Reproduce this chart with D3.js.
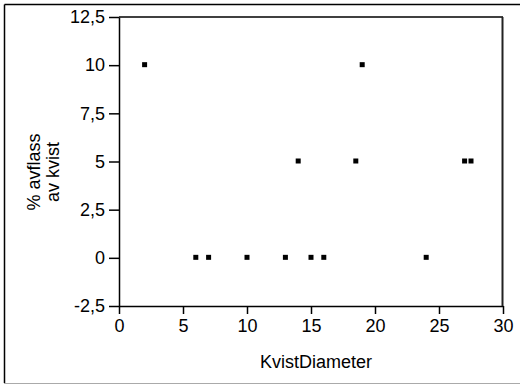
<!DOCTYPE html>
<html><head><meta charset="utf-8">
<script src="https://cdn.jsdelivr.net/npm/d3@7"></script>
<style>body{margin:0;background:#fff}svg{display:block}text{font-family:"Liberation Sans",Arial,sans-serif}</style>
</head><body>
<svg id="c" width="520" height="385"></svg>
<script>
const xValues = [2, 6, 7, 10, 13, 14, 15, 16, 18.5, 19, 24, 27, 27.5];
const yValues = [10, 0, 0, 0, 0, 5, 0, 0, 5, 10, 0, 5, 5];
const xTicks = [0, 5, 10, 15, 20, 25, 30];
const yTicks = [-2.5, 0, 2.5, 5, 7.5, 10, 12.5];
const xTitle = "KvistDiameter";
const yTitle = ["% avflass", "av kvist"];

const svg = d3.select("#c");
// outer frame
svg.append("line").attr("x1",4.5).attr("x2",520).attr("y1",4.5).attr("y2",4.5).attr("stroke","#000").attr("stroke-width",1.5);
svg.append("line").attr("x1",4.5).attr("x2",4.5).attr("y1",4.5).attr("y2",383).attr("stroke","#000").attr("stroke-width",1.5);
svg.append("line").attr("x1",4).attr("x2",520).attr("y1",383.5).attr("y2",383.5).attr("stroke","#aaa").attr("stroke-width",1);

const x = d3.scaleLinear().domain([0,30]).range([119,503]);
const y = d3.scaleLinear().domain([-2.5,12.5]).range([306,17]);
const fmt = d => String(d).replace(".", ",");

const gx = svg.append("g").attr("transform","translate(0,306)")
  .call(d3.axisBottom(x).tickValues(xTicks).tickFormat(fmt).tickSize(8).tickPadding(5).tickSizeOuter(0));
const gy = svg.append("g").attr("transform","translate(119,0)")
  .call(d3.axisLeft(y).tickValues(yTicks).tickFormat(fmt).tickSize(10).tickPadding(4).tickSizeOuter(0));
[gx,gy].forEach(g=>{
  g.selectAll("text").attr("font-size",18).attr("fill","#000").attr("font-family","Liberation Sans, Arial, sans-serif");
  g.selectAll("line,path").attr("stroke","#000").attr("stroke-width",1.5);
});
// top and right frame of the plot
svg.append("line").attr("x1",119).attr("x2",503).attr("y1",y(12.5)).attr("y2",y(12.5)).attr("stroke","#000").attr("stroke-width",1.5);
svg.append("line").attr("x1",502.5).attr("x2",502.5).attr("y1",y(12.5)).attr("y2",y(-2.5)).attr("stroke","#222").attr("stroke-width",2);

svg.append("g").selectAll("rect").data(xValues.map((v,i)=>[v,yValues[i]])).join("rect")
  .attr("x",d=>x(d[0])-2.5).attr("y",d=>y(d[1])-3).attr("width",5).attr("height",5).attr("fill","#000");

svg.append("text").attr("x",316).attr("y",368).attr("text-anchor","middle").attr("font-size",18).text(xTitle);
yTitle.forEach((t,i)=>{
  svg.append("text").attr("transform",`translate(${40+i*19},172) rotate(-90)`).attr("text-anchor","middle").attr("font-size",18).text(t);
});
</script>
</body></html>
